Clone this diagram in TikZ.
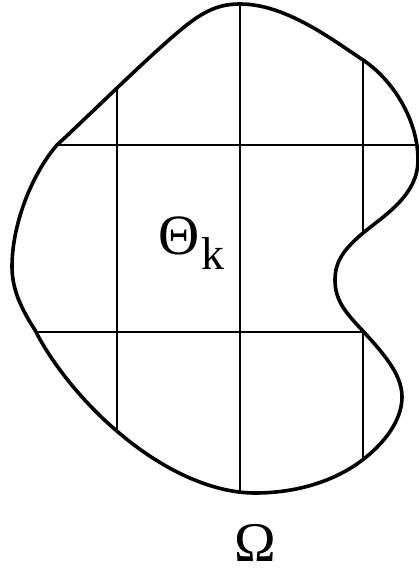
\documentclass[tikz,border=0pt]{standalone}
\usepackage{fontspec}
\setmainfont{Liberation Serif}
\begin{document}
\begin{tikzpicture}[x=1pt,y=-1pt,
  bound/.style={line width=3.6pt,line join=round},
  gridline/.style={line width=1.8pt},
  lbl/.style={inner sep=0pt,outer sep=0pt}]
\useasboundingbox (0,0) rectangle (419,569);
\def\blob{(240,4) .. controls (285,4) and (330,38) .. (363,60)
 .. controls (393,80) and (418,120) .. (418,160)
 .. controls (418,195) and (385,215) .. (363,233)
 .. controls (343,250) and (335,262) .. (335,280)
 .. controls (335,300) and (345,312) .. (362,330)
 .. controls (385,355) and (402,375) .. (402,397)
 .. controls (402,420) and (385,442) .. (365,458)
 .. controls (335,482) and (295,493) .. (255,493)
 .. controls (210,493) and (160,468) .. (118,432)
 .. controls (80,400) and (50,360) .. (35,330)
 .. controls (22,310) and (12,290) .. (12,267)
 .. controls (12,220) and (35,170) .. (57,145)
 .. controls (100,105) and (150,55) .. (183,28)
 .. controls (205,10) and (220,4) .. (240,4) -- cycle}
\begin{scope}
  \clip \blob;
  \draw[gridline] (0,145) -- (419,145);
  \draw[gridline] (0,332) -- (419,332);
  \draw[gridline] (117,0) -- (117,569);
  \draw[gridline] (240,0) -- (240,569);
  \draw[gridline] (363,0) -- (363,569);
\end{scope}
\draw[bound] \blob;
\node[lbl,anchor=base] (theta) at (179,254) {\fontsize{57}{57}\selectfont Θ};
\node[lbl,anchor=base west] (k) at (201,269) {\fontsize{46}{46}\selectfont k};
\node[lbl,anchor=base] (omega) at (255,561) {\fontsize{56}{56}\selectfont Ω};
\end{tikzpicture}
\end{document}
